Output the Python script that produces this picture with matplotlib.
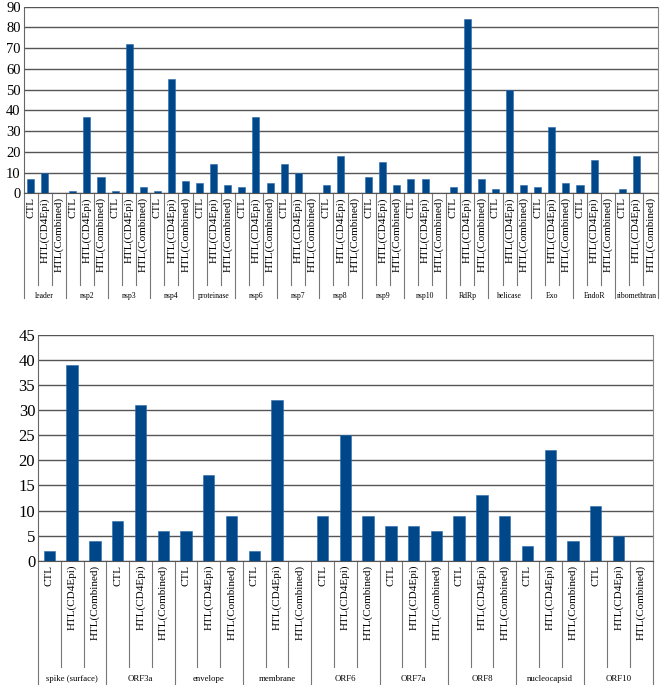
import matplotlib
matplotlib.use("Agg")
import matplotlib.pyplot as plt
import numpy as np
from matplotlib.transforms import blended_transform_factory

plt.rcParams['font.family'] = ['Liberation Serif', 'DejaVu Serif']

series = ["CTL", "HTL(CD4Epi)", "HTL(Combined)"]

top_groups = ["leader", "nsp2", "nsp3", "nsp4", "proteinase", "nsp6", "nsp7", "nsp8",
              "nsp9", "nsp10", "RdRp", "helicase", "Exo", "EndoR", "ribomethtran"]
top_ctl = [7, 1, 1, 1, 5, 3, 14, 4, 8, 7, 3, 2, 3, 4, 2]
top_cd4 = [10, 37, 72, 55, 14, 37, 10, 18, 15, 7, 84, 50, 32, 16, 18]
top_comb = [0, 8, 3, 6, 4, 5, 0, 0, 4, 0, 7, 4, 5, 0, 0]

bot_groups = ["spike (surface)", "ORF3a", "envelope", "membrane", "ORF6", "ORF7a",
              "ORF8", "nucleocapsid", "ORF10"]
bot_ctl = [2, 8, 6, 2, 9, 7, 9, 3, 11]
bot_cd4 = [39, 31, 17, 32, 25, 7, 13, 22, 5]
bot_comb = [4, 6, 9, 0, 9, 6, 9, 4, 0]

top_ticks = list(range(0, 91, 10))
bot_ticks = list(range(0, 46, 5))

BAR = '#00478A'
GRID = '#555555'

fig = plt.figure(figsize=(6.6, 6.85), dpi=100)
W, H = 660.0, 685.0


def panel(rect, groups, ctl, cd4, comb, ticks, ytick_fs, lab_fs, grp_fs,
          tick_len, grp_len, grp_label_y):
    left, top, right, bottom = rect
    ax = fig.add_axes([left / W, 1 - bottom / H, (right - left) / W, (bottom - top) / H])
    vals = []
    for a, b, c in zip(ctl, cd4, comb):
        vals += [a, b, c]
    n = len(vals)
    x = np.arange(n)
    ax.bar(x, vals, width=0.5, color=BAR, edgecolor='#2a6cb0', linewidth=0.4, zorder=3)
    ax.set_xlim(-0.5, n - 0.5)
    ax.set_ylim(ticks[0], ticks[-1])
    ax.set_yticks(ticks)
    ax.set_yticklabels([str(t) for t in ticks], fontsize=ytick_fs)
    ax.tick_params(axis='y', length=0, pad=2)
    ax.yaxis.grid(True, color=GRID, linewidth=1.0, zorder=0)
    ax.set_xticks([])
    ax.spines['top'].set_visible(False)
    ax.spines['right'].set_color('#888888')
    ax.spines['left'].set_color('#666666')
    ax.spines['bottom'].set_color('#555555')
    trans = blended_transform_factory(ax.transData, ax.transAxes)
    h_ax = bottom - top
    # bar tick separators
    for i in range(n + 1):
        xb = i - 0.5
        length = grp_len if i % 3 == 0 else tick_len
        ax.plot([xb, xb], [0, -length / h_ax], transform=trans, color='#777777',
                linewidth=0.8, clip_on=False)
    # bar labels
    for i in range(n):
        ax.text(i, -4.0 / h_ax, series[i % 3], transform=trans, rotation=90,
                ha='center', va='top', fontsize=lab_fs)
    # group labels
    for g, name in enumerate(groups):
        ax.text(3 * g + 1, -(grp_label_y - bottom) / h_ax, name, transform=trans,
                ha='center', va='center', fontsize=grp_fs, clip_on=False)
    return ax


panel((23.5, 6.7, 657.5, 193.3), top_groups, top_ctl, top_cd4, top_comb,
      top_ticks, 10.5, 8.0, 5.6, 92, 105, 296)
panel((38, 335, 652.7, 560.7), bot_groups, bot_ctl, bot_cd4, bot_comb,
      bot_ticks, 12, 8.0, 6.3, 106, 124, 679)

fig.savefig("out.png", dpi=100)
